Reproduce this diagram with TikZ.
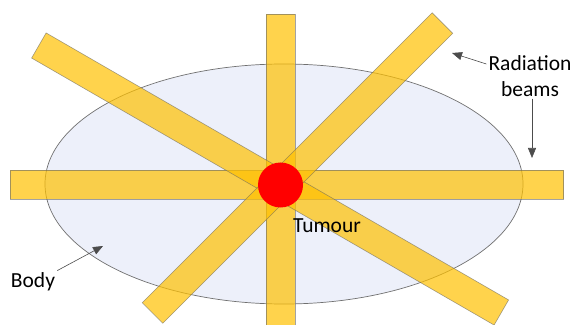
\documentclass[tikz,border=0pt]{standalone}
\usepackage{fontspec}
\setmainfont{Carlito}
\usetikzlibrary{arrows.meta, positioning, calc}
\definecolor{bmYellow}{HTML}{FFC000}
\definecolor{bodyFill}{HTML}{EDF0FA}
\definecolor{lineGrey}{HTML}{707070}
\tikzset{
  beam/.style    = {fill=bmYellow, fill opacity=0.7, draw=black!60, draw opacity=0.6, line width=0.6pt},
  callout/.style = {-{Triangle[length=10pt,width=8pt]}, line width=0.6pt, black!70},
  lbl/.style     = {font=\fontsize{21.5}{26}\selectfont, align=center, inner sep=2pt},
}

\begin{document}
\begin{tikzpicture}[x=1pt,y=1pt]
  \useasboundingbox (0,0) rectangle (572,324);
  \coordinate (c) at (280.5,139);
  \draw[lineGrey, fill=bodyFill, line width=0.7pt] (284,140) ellipse [x radius=239pt, y radius=120pt];
  \foreach \ang/\from/\to in {0/-270.5/283, 90/-142/171, -30/-279/255, 45/-181/229} {
    \begin{scope}[shift={(c)}, rotate=\ang]
      \draw[beam] (\from,-14.5) rectangle (\to,14.5);
    \end{scope}
  }
  \fill[red] (c) circle [radius=22.5pt];
  \node[lbl] (tumourLbl) at (327,98) {Tumour};
  \node[lbl] (radLbl) at (530,248) {Radiation\\beams};
  \node[lbl] (bodyLbl) at (33,42) {Body};
  \coordinate (radTip) at (452,271);
  \coordinate (beamTip) at (532,166);
  \coordinate (bodyTip) at (103,78);
  \draw[callout] ([yshift=12pt]radLbl.west) -- (radTip);
  \draw[callout] (radLbl.south -| beamTip) -- (beamTip);
  \draw[callout] (bodyLbl.north east) -- (bodyTip);
\end{tikzpicture}
\end{document}
